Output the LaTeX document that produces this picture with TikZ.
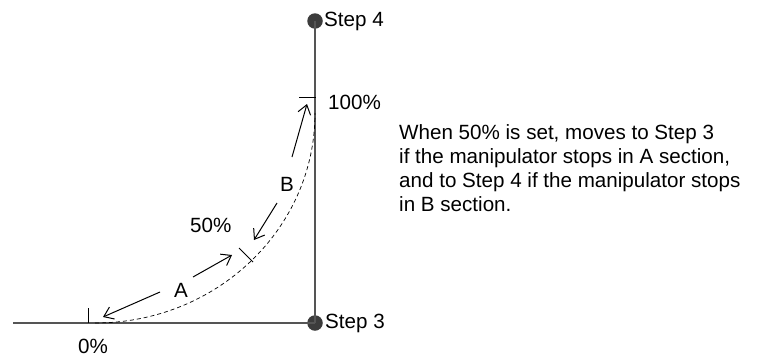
\documentclass[tikz,border=0pt]{standalone}
\usepackage{fontspec}
\setmainfont{Liberation Sans}
\usetikzlibrary{arrows.meta}
\definecolor{axisgray}{RGB}{85,85,85}
\definecolor{dotgray}{RGB}{60,60,60}
\begin{document}
\begin{tikzpicture}[x=1pt,y=-1pt,
  axis/.style={draw=axisgray,line width=1.5pt},
  dotnode/.style={circle,fill=dotgray,inner sep=0pt,minimum size=15.5pt},
  lbl/.style={inner sep=0pt,font=\fontsize{20.6}{24}\selectfont},
  tick/.style={draw=black,line width=0.9pt},
  mv/.style={draw=black,line width=1pt,-{Straight Barb[length=9pt,width=13pt,line width=1pt]}},
  path/.style={draw=black,line width=0.7pt,dash pattern=on 4pt off 3pt}]
\useasboundingbox (0,0) rectangle (759,356);
% axes
\coordinate (left) at (13,323);
\node[dotnode] (s4) at (315,21) {};
\node[dotnode] (s3) at (315,323) {};
\draw[axis] (left) -- (s3.center);
\draw[axis] (s3.center) -- (s4.center);
\node[lbl,anchor=base west] (s4l) at (324,26) {Step 4};
\node[lbl,anchor=base west] (s3l) at (325,328) {Step 3};
% ticks
\coordinate (t0a) at (88,308); \coordinate (t0b) at (88,323);
\draw[tick] (t0a) -- (t0b);
\coordinate (t1a) at (299,97); \coordinate (t1b) at (316,97);
\draw[tick] (t1a) -- (t1b);
\coordinate (t5a) at (239,248); \coordinate (t5b) at (253,262);
\draw[tick] (t5a) -- (t5b);
% dashed path
\coordinate (p0) at (95,323);
\draw[path] (p0) arc[start angle=90,end angle=0,x radius=220,y radius=210];
% labels
\node[lbl,anchor=base west] (l0) at (78,353) {0\%};
\node[lbl,anchor=base west] (l100) at (328,109) {100\%};
\node[lbl,anchor=base west] (l50) at (190,232) {50\%};
\node[lbl,anchor=base] (lA) at (181,297) {A};
\node[lbl,anchor=base] (lB) at (287,191) {B};
% arrows
\coordinate (a1s) at (160,292); \coordinate (a1e) at (103,317);
\coordinate (a2s) at (193,277); \coordinate (a2e) at (232,255);
\coordinate (b1s) at (277,203); \coordinate (b1e) at (254,240);
\coordinate (b2s) at (292,157); \coordinate (b2e) at (307,104);
\draw[mv] (a1s) -- (a1e);
\draw[mv] (a2s) -- (a2e);
\draw[mv] (b1s) -- (b1e);
\draw[mv] (b2s) -- (b2e);
% note
\node[lbl,anchor=north west,align=left] (note) at (399,124.5) {When 50\% is set, moves to Step 3\\if the manipulator stops in A section,\\and to Step 4 if the manipulator stops\\in B section.};
\end{tikzpicture}
\end{document}
